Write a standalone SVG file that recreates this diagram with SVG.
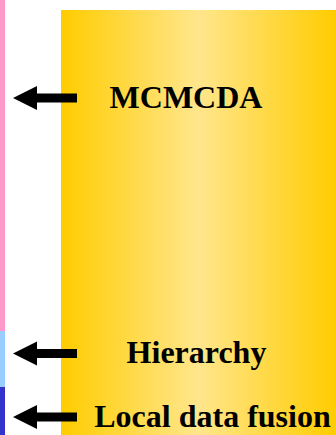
<svg xmlns="http://www.w3.org/2000/svg" width="336" height="435" viewBox="0 0 336 435">
<defs>
<linearGradient id="gold" x1="0" y1="0" x2="1" y2="0">
<stop offset="0" stop-color="#FFCC00"/>
<stop offset="0.5" stop-color="#FFE68C"/>
<stop offset="1" stop-color="#FFCC00"/>
</linearGradient>
<style>
.lbl{font-family:"Liberation Serif","Times New Roman",serif;font-weight:bold;font-size:32px;fill:#000;text-anchor:middle}
.arr{fill:#000}
</style>
<polygon id="arrowShape" class="arr" points="13,0 37,-12 37,-4.5 77,-4.5 77,4.5 37,4.5 37,12"/>
</defs>
<rect width="336" height="435" fill="#FFFFFF"/>
<g id="sidebar">
<rect x="0" y="0" width="5" height="331" fill="#FF99CC"/>
<rect x="0" y="331" width="5" height="56" fill="#99CCFF"/>
<rect x="0" y="387" width="5" height="48" fill="#3333CC"/>
</g>
<g id="panel">
<rect x="61" y="10" width="275" height="425" fill="url(#gold)"/>
</g>
<g id="connectors">
<use href="#arrowShape" transform="translate(0,98)"/>
<use href="#arrowShape" transform="translate(0,353.5)"/>
<use href="#arrowShape" transform="translate(0,417)"/>
</g>
<g id="mcmcda"><text class="lbl" x="186" y="108">MCMCDA</text></g>
<g id="hierarchy"><text class="lbl" x="196.5" y="363">Hierarchy</text></g>
<g id="localfusion"><text class="lbl" x="212.5" y="427">Local data fusion</text></g>
</svg>
